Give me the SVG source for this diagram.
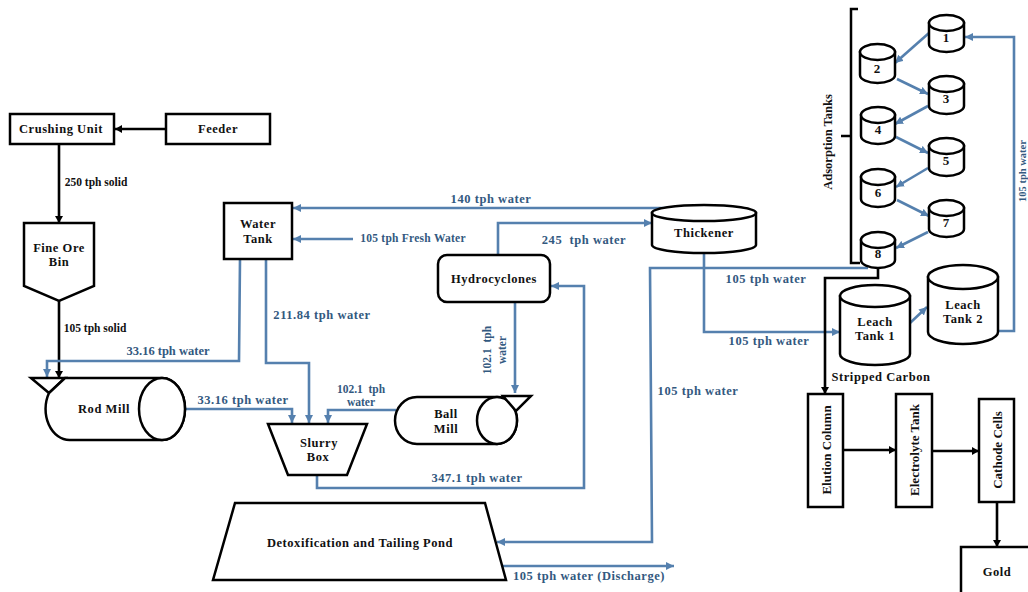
<svg xmlns="http://www.w3.org/2000/svg" width="1028" height="592" viewBox="0 0 1028 592">
<style>
text{font-family:"Liberation Serif","Times New Roman",serif;font-weight:700;font-size:11.5px;text-anchor:middle;dominant-baseline:central;fill:#111}
.f{font-size:12.5px;letter-spacing:.55px}
.n{font-size:13px}
.b{fill:#33597f}
.s{fill:#fff;stroke:#000;stroke-width:2.5}
.o{fill:none;stroke:#000;stroke-width:2.5}
.w{fill:none;stroke:#5580ae;stroke-width:2.6;marker-end:url(#ab)}
.k{fill:none;stroke:#000;stroke-width:2.6;marker-end:url(#ak)}
</style>
<defs>
<marker id="ab" markerUnits="userSpaceOnUse" markerWidth="9" markerHeight="9" refX="8" refY="4.500" orient="auto"><path d="M0,0.500L8,4.500L0,8.500Z" fill="#5580ae"/></marker>
<marker id="ak" markerUnits="userSpaceOnUse" markerWidth="8" markerHeight="9" refX="7" refY="4.500" orient="auto"><path d="M0,0.500L7,4.500L0,8.500Z" fill="#000"/></marker>
</defs>
<rect width="1028" height="592" fill="#fff"/>
<g id="connectors">
<path class="k" d="M166,129H115"/>
<path class="k" d="M59,144V223"/>
<path class="k" d="M59,301V378"/>
<path class="w" d="M240,259L239,361H47V377"/>
<path class="w" d="M185,409H292V423"/>
<path class="w" d="M266,259V363H309V423"/>
<path class="w" d="M396,410H328V423"/>
<path class="w" d="M317,475V488H584V286H551"/>
<path class="w" d="M498,255V223H652"/>
<path class="w" d="M670,208H293"/>
<path class="w" d="M353,239H293"/>
<path class="w" d="M515,302V393"/>
<path class="w" d="M704,253V332H840"/>
<path class="w" d="M868,268H650L652,542H497"/>
<path class="w" d="M503,566H674"/>
<path class="k" d="M878,268V278H825V394"/>
<path class="w" d="M910,323L927,307"/>
<path class="w" d="M998,331H1014V37H965"/>
<path class="w" d="M929,33L895,63"/>
<path class="w" d="M897,79L928,94"/>
<path class="w" d="M928,106L895,124"/>
<path class="w" d="M896,137L928,153"/>
<path class="w" d="M928,168L896,187"/>
<path class="w" d="M897,200L929,216"/>
<path class="w" d="M928,232L896,248"/>
<path class="k" d="M843,450H896"/>
<path class="k" d="M932,451H979"/>
<path class="k" d="M997,502V547"/>
</g>
<g id="crushing-unit"><rect class="s" x="10" y="114" width="104" height="30"/><text class="f" x="61" y="129">Crushing Unit</text></g>
<g id="feeder"><rect class="s" x="166" y="114" width="104" height="30"/><text class="f" x="218" y="129">Feeder</text></g>
<g id="fine-ore-bin"><path class="s" d="M24,223H94V286L59,301L24,286Z"/><text class="f" x="59" y="248">Fine Ore</text><text class="f" x="59" y="262">Bin</text></g>
<g id="rod-mill"><path class="s" d="M31,378H65L49,393Z"/><path class="s" d="M65,378H162A23,31 0 0 1 162,440H70A24,31 0 0 1 49,393Z"/><ellipse class="s" cx="162" cy="409" rx="23" ry="31"/><text class="f" x="104" y="409">Rod Mill</text></g>
<g id="water-tank"><rect class="s" x="224" y="203" width="68" height="56"/><text class="f" x="258" y="224">Water</text><text class="f" x="258" y="239">Tank</text></g>
<g id="slurry-box"><path class="s" d="M268,424H367L347,475H288Z"/><text class="f" x="319" y="443">Slurry</text><text class="f" x="318" y="457">Box</text></g>
<g id="ball-mill"><path class="s" d="M497,397A20,23.5 0 0 1 497,444H417A22,23.5 0 0 1 417,397Z"/><ellipse class="s" cx="497" cy="420.500" rx="20" ry="23.500"/><path class="s" d="M503,396H531L516,411Z"/><text class="f" x="446" y="414">Ball</text><text class="f" x="446" y="429">Mill</text></g>
<g id="hydrocyclones"><rect class="s" x="438" y="255" width="112" height="47" rx="9"/><text class="f" x="494" y="279">Hydrocyclones</text></g>
<g id="pond"><path class="s" d="M235,503H485L506,580H213Z"/><text class="f" x="360" y="543">Detoxification and Tailing Pond</text></g>
<g id="thickener"><path class="s" d="M652,213V245A52,8 0 0 0 756,245V213Z"/><ellipse class="s" cx="704" cy="213" rx="52" ry="8"/><text class="f" x="704" y="233">Thickener</text></g>
<g id="leach-tank-1"><path class="s" d="M840,296V354A35,11 0 0 0 910,354V296Z"/><ellipse class="s" cx="875" cy="296" rx="35" ry="11"/><text class="f" x="875" y="322">Leach</text><text class="f" x="875" y="336">Tank 1</text></g>
<g id="leach-tank-2"><path class="s" d="M928,277V332A35,12 0 0 0 998,332V277Z"/><ellipse class="s" cx="963" cy="277" rx="35" ry="12"/><text class="f" x="963" y="305">Leach</text><text class="f" x="963" y="319">Tank 2</text></g>
<g id="tank-1"><path class="s" d="M929,23V44A17.500,8 0 0 0 964,44V23Z"/><ellipse class="s" cx="946.500" cy="23" rx="17.500" ry="8"/><text class="n" x="946" y="37">1</text></g>
<g id="tank-2"><path class="s" d="M860,52V75A17.500,8 0 0 0 895,75V52Z"/><ellipse class="s" cx="877.500" cy="52" rx="17.500" ry="8"/><text class="n" x="877" y="68">2</text></g>
<g id="tank-3"><path class="s" d="M929,84V106A17.500,8 0 0 0 964,106V84Z"/><ellipse class="s" cx="946.500" cy="84" rx="17.500" ry="8"/><text class="n" x="946" y="98">3</text></g>
<g id="tank-4"><path class="s" d="M861,115V136A17,8 0 0 0 895,136V115Z"/><ellipse class="s" cx="878" cy="115" rx="17" ry="8"/><text class="n" x="878" y="129">4</text></g>
<g id="tank-5"><path class="s" d="M929,146V168A17.500,8 0 0 0 964,168V146Z"/><ellipse class="s" cx="946.500" cy="146" rx="17.500" ry="8"/><text class="n" x="946" y="160">5</text></g>
<g id="tank-6"><path class="s" d="M861,177V199A17,8 0 0 0 895,199V177Z"/><ellipse class="s" cx="878" cy="177" rx="17" ry="8"/><text class="n" x="878" y="192">6</text></g>
<g id="tank-7"><path class="s" d="M929,208V229A17.500,8 0 0 0 964,229V208Z"/><ellipse class="s" cx="946.500" cy="208" rx="17.500" ry="8"/><text class="n" x="946" y="222">7</text></g>
<g id="tank-8"><path class="s" d="M861,240V260A17,8 0 0 0 895,260V240Z"/><ellipse class="s" cx="878" cy="240" rx="17" ry="8"/><text class="n" x="878" y="253">8</text></g>
<g id="adsorption-bracket"><path class="o" d="M858,9H851V263H860M841,136H851"/><text transform="translate(828,142) rotate(-90)" style="font-size:12.5px">Adsorption Tanks</text></g>
<g id="elution-column"><rect class="s" x="808" y="394" width="35" height="113"/><text class="n" transform="translate(826,450) rotate(-90)">Elution Column</text></g>
<g id="electrolyte-tank"><rect class="s" x="896" y="394" width="36" height="113"/><text class="n" transform="translate(914,450) rotate(-90)">Electrolyte Tank</text></g>
<g id="cathode-cells"><rect class="s" x="979" y="399" width="35" height="103"/><text class="n" transform="translate(997,450) rotate(-90)">Cathode Cells</text></g>
<g id="gold"><rect class="s" x="961" y="547" width="80" height="60"/><text class="f" x="997" y="572">Gold</text></g>
<g id="labels">
<text x="96" y="182">250 tph solid</text>
<text x="95" y="328">105 tph solid</text>
<text x="881" y="377" class="f">Stripped Carbon</text>
<text class="b" x="168" y="351" style="font-size:12.5px">33.16 tph water</text>
<text class="b f" x="243" y="400">33.16 tph water</text>
<text class="b f" x="491" y="199">140 tph water</text>
<text class="b" x="413" y="238" style="letter-spacing:.25px">105 tph Fresh Water</text>
<text class="b f" x="584" y="240" xml:space="preserve">245  tph water</text>
<text class="b f" x="322" y="315">211.84 tph water</text>
<text class="b" x="361" y="389" xml:space="preserve">102.1  tph</text>
<text class="b" x="361" y="402">water</text>
<text class="b" transform="translate(487,350) rotate(-90)" xml:space="preserve">102.1  tph</text>
<text class="b" transform="translate(502,350) rotate(-90)">water</text>
<text class="b f" x="477" y="478">347.1 tph water</text>
<text class="b f" x="766" y="279">105 tph water</text>
<text class="b f" x="769" y="341">105 tph water</text>
<text class="b f" x="698" y="391">105 tph water</text>
<text class="b f" x="589" y="576">105 tph water (Discharge)</text>
<text class="b" transform="translate(1022,171) rotate(-90)" style="font-size:10.5px">105 tph water</text>
</g>
</svg>
